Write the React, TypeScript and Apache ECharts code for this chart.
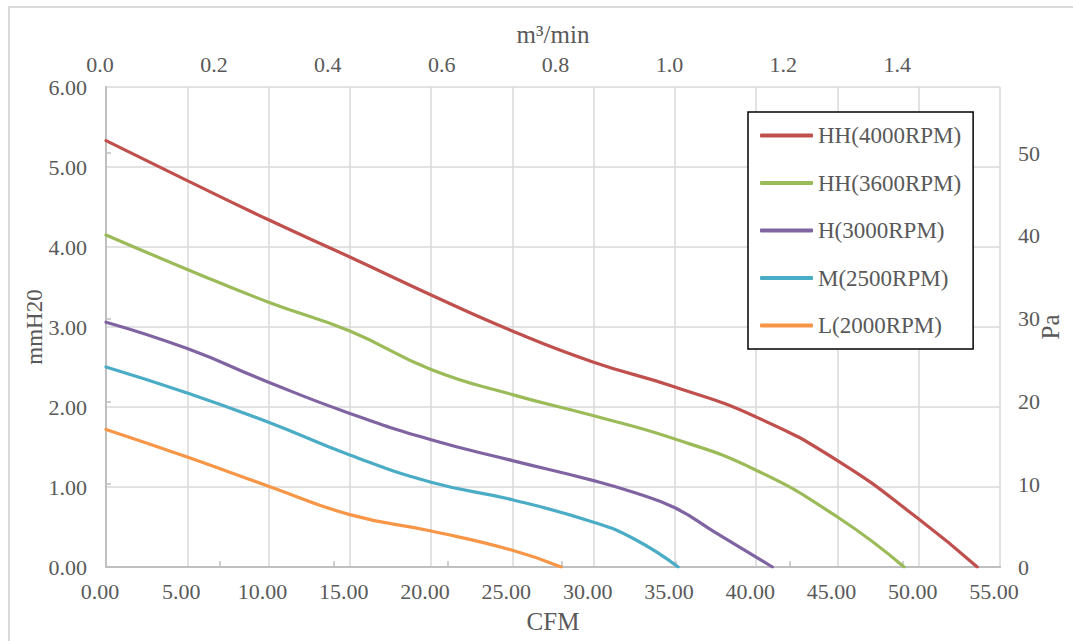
import React, { useEffect, useRef } from "react";
import * as echarts from "echarts";

const SERIES_NAMES = ["HH(4000RPM)", "HH(3600RPM)", "H(3000RPM)", "M(2500RPM)", "L(2000RPM)"];
const SERIES_COLORS = ["#C0504D", "#9BBB59", "#8064A2", "#4BACC6", "#F79646"];

const CFM_HH4000 = [0, 5, 10, 15, 20, 25, 30, 35, 40, 45, 50, 53.6];
const MM_HH4000 = [5.33, 4.83, 4.34, 3.875, 3.4, 2.95, 2.56, 2.25, 1.875, 1.33, 0.6, 0];

const CFM_HH3600 = [0, 5, 10, 15, 20, 25, 30, 35, 40, 45, 49.1];
const MM_HH3600 = [4.15, 3.72, 3.31, 2.95, 2.47, 2.155, 1.89, 1.6, 1.21, 0.625, 0];

const CFM_H3000 = [0, 5, 10, 15, 20, 25, 30, 32.5, 35, 37.5, 41];
const MM_H3000 = [3.06, 2.73, 2.31, 1.92, 1.59, 1.33, 1.08, 0.93, 0.74, 0.43, 0];

const CFM_M2500 = [0, 5, 10, 15, 20, 25, 30, 32.5, 35.2];
const MM_M2500 = [2.5, 2.175, 1.81, 1.4, 1.06, 0.84, 0.56, 0.35, 0];

const CFM_L2000 = [0, 5, 10, 15, 20, 25, 28];
const MM_L2000 = [1.72, 1.375, 1.01, 0.655, 0.45, 0.21, 0];

const CFM_LIST = [CFM_HH4000, CFM_HH3600, CFM_H3000, CFM_M2500, CFM_L2000];
const MM_LIST = [MM_HH4000, MM_HH3600, MM_H3000, MM_M2500, MM_L2000];

const TOP_TICKS = [0, 0.2, 0.4, 0.6, 0.8, 1.0, 1.2, 1.4];
const PA_TICKS = [0, 10, 20, 30, 40, 50];

const FONT = "Liberation Serif";
const TEXT_COLOR = "#595959";
const AXIS_COLOR = "#BFBFBF";
const GRID_COLOR = "#D9D9D9";

export default function App() {
  const ref = useRef<HTMLDivElement>(null);
  useEffect(() => {
    if (!ref.current) return;
    const chart = echarts.init(ref.current, undefined, { renderer: "svg" });
    const labelStyle = { fontFamily: FONT, fontSize: 22, color: TEXT_COLOR };
    const nameStyle = { fontFamily: FONT, fontSize: 25, color: TEXT_COLOR };
    chart.setOption({
      animation: false,
      backgroundColor: "#ffffff",
      grid: { left: 106, right: 73, top: 87, bottom: 74, containLabel: false, outerBoundsMode: "none" },
      graphic: [
        {
          type: "rect",
          shape: { x: 9, y: 7, width: 1100, height: 700 },
          style: { fill: "none", stroke: GRID_COLOR, lineWidth: 2 },
          silent: true,
        },
      ],
      legend: {
        orient: "vertical",
        left: 748,
        top: 112,
        padding: [12, 12, 12, 12],
        backgroundColor: "#ffffff",
        borderColor: "#000000",
        borderWidth: 1.5,
        icon: "roundRect",
        itemWidth: 53,
        itemHeight: 4,
        itemGap: 24.5,
        textStyle: { fontFamily: FONT, fontSize: 23, lineHeight: 23, color: TEXT_COLOR },
        data: SERIES_NAMES,
      },
      xAxis: [
        {
          type: "value",
          position: "bottom",
          min: 0,
          max: 55,
          interval: 5,
          name: "CFM",
          nameLocation: "middle",
          nameGap: 42,
          nameTextStyle: nameStyle,
          axisLine: { show: true, lineStyle: { color: AXIS_COLOR, width: 2 } },
          axisTick: { show: false },
          axisLabel: { ...labelStyle, margin: 13, padding: [0, 12, 0, 0], formatter: (v: number) => v.toFixed(2) },
          splitLine: { show: true, lineStyle: { color: GRID_COLOR, width: 1.5 } },
        },
        {
          type: "value",
          position: "top",
          min: 0,
          max: 1.57,
          name: "m³/min",
          nameLocation: "middle",
          nameGap: 40,
          nameTextStyle: nameStyle,
          axisLine: { show: true, lineStyle: { color: AXIS_COLOR, width: 2 } },
          axisTick: { show: true, inside: false, length: 6, customValues: TOP_TICKS, lineStyle: { color: AXIS_COLOR, width: 1.5 } },
          axisLabel: { ...labelStyle, margin: 12, padding: [0, 12, 0, 0], customValues: TOP_TICKS, formatter: (v: number) => v.toFixed(1) },
          splitLine: { show: false },
        },
      ],
      yAxis: [
        {
          type: "value",
          position: "left",
          min: 0,
          max: 6,
          interval: 1,
          name: "mmH20",
          nameLocation: "middle",
          nameGap: 60,
          nameMoveOverlap: false,
          nameTextStyle: { ...nameStyle, fontSize: 23 },
          axisLine: { show: true, lineStyle: { color: AXIS_COLOR, width: 2 } },
          axisTick: { show: false },
          axisLabel: { ...labelStyle, margin: 19, formatter: (v: number) => v.toFixed(2) },
          splitLine: { show: true, lineStyle: { color: GRID_COLOR, width: 1.5 } },
        },
        {
          type: "value",
          position: "right",
          min: 0,
          max: 58,
          name: "Pa",
          nameLocation: "middle",
          nameGap: 38,
          nameMoveOverlap: false,
          nameTextStyle: nameStyle,
          axisLine: { show: true, lineStyle: { color: AXIS_COLOR, width: 2 } },
          axisTick: { show: true, inside: false, length: 5, customValues: PA_TICKS, lineStyle: { color: AXIS_COLOR, width: 1.5 } },
          axisLabel: { ...labelStyle, margin: 18, customValues: PA_TICKS, formatter: (v: number) => String(v) },
          splitLine: { show: false },
        },
      ],
      series: SERIES_NAMES.map((name, i) => ({
        name,
        type: "line",
        xAxisIndex: 0,
        yAxisIndex: 0,
        smooth: 0.5,
        symbol: "none",
        showSymbol: false,
        color: SERIES_COLORS[i],
        itemStyle: { color: SERIES_COLORS[i] },
        lineStyle: { width: 3.2, color: SERIES_COLORS[i], cap: "round" },
        data: CFM_LIST[i].map((x, j) => [x, MM_LIST[i][j]]),
      })),
    });
    return () => chart.dispose();
  }, []);
  return <div ref={ref} style={{ position: "fixed", left: 0, top: 0, width: 1073, height: 641 }} />;
}
